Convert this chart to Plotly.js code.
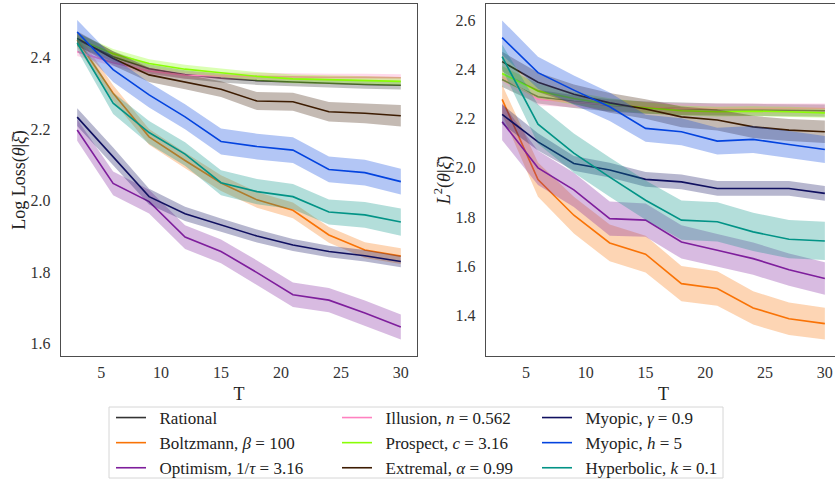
<!DOCTYPE html>
<html><head><meta charset="utf-8">
<script src="https://cdn.plot.ly/plotly-3.0.1.min.js"></script>
<style>html,body{margin:0;padding:0;overflow:hidden;background:#fff;width:835px;height:480px}</style>
</head><body><div id="chart" style="width:851px;height:480px"></div>
<script>
// ---- data ----
const T = [3, 6, 9, 12, 15, 18, 21, 24, 27, 30];
const xTickVals = [5, 10, 15, 20, 25, 30];
const yTickValsLL = [1.6, 1.8, 2.0, 2.2, 2.4];
const yTickValsL2 = [1.4, 1.6, 1.8, 2.0, 2.2, 2.4, 2.6];

const seriesNames = [
  "Rational",
  "Boltzmann, <i>β</i> = 100",
  "Optimism, 1/<i>τ</i> = 3.16",
  "Illusion, <i>n</i> = 0.562",
  "Prospect, <i>c</i> = 3.16",
  "Extremal, <i>α</i> = 0.99",
  "Myopic, <i>γ</i> = 0.9",
  "Myopic, <i>h</i> = 5",
  "Hyperbolic, <i>k</i> = 0.1"
];
const seriesColors = ["#333333", "#f97306", "#7e1e9c", "#ff81c0", "#89fe05", "#3d1c02", "#101060", "#0343df", "#029386"];

// Log Loss panel means
const rationalLL = [2.450, 2.402, 2.368, 2.352, 2.342, 2.335, 2.331, 2.327, 2.324, 2.322];
const boltzLL    = [2.448, 2.300, 2.178, 2.112, 2.049, 2.002, 1.973, 1.904, 1.862, 1.845];
const optimLL    = [2.197, 2.048, 1.997, 1.898, 1.858, 1.799, 1.737, 1.722, 1.686, 1.647];
const illusLL    = [2.416, 2.385, 2.362, 2.350, 2.348, 2.346, 2.345, 2.344, 2.344, 2.343];
const prospLL    = [2.452, 2.410, 2.383, 2.367, 2.357, 2.347, 2.340, 2.337, 2.335, 2.333];
const extremLL   = [2.453, 2.397, 2.351, 2.331, 2.311, 2.278, 2.276, 2.248, 2.244, 2.237];
const myoGammaLL = [2.233, 2.123, 2.011, 1.963, 1.932, 1.901, 1.876, 1.858, 1.846, 1.830];
const myoHLL     = [2.471, 2.366, 2.295, 2.234, 2.165, 2.151, 2.141, 2.087, 2.078, 2.053];
const hyperLL    = [2.440, 2.272, 2.190, 2.130, 2.050, 2.025, 2.011, 1.968, 1.960, 1.940];
// Log Loss panel band half-widths
const rationalLLErr = [0.020, 0.015, 0.013, 0.012, 0.012, 0.012, 0.012, 0.012, 0.012, 0.012];
const boltzLLErr    = [0.020, 0.022, 0.022, 0.022, 0.022, 0.022, 0.022, 0.022, 0.022, 0.022];
const optimLLErr    = [0.030, 0.033, 0.033, 0.033, 0.033, 0.034, 0.034, 0.034, 0.035, 0.035];
const illusLLErr    = [0.012, 0.010, 0.010, 0.010, 0.010, 0.010, 0.010, 0.010, 0.010, 0.010];
const prospLLErr    = [0.015, 0.013, 0.012, 0.012, 0.012, 0.012, 0.012, 0.012, 0.012, 0.012];
const extremLLErr   = [0.020, 0.020, 0.020, 0.020, 0.022, 0.025, 0.025, 0.027, 0.028, 0.030];
const myoGammaLLErr = [0.025, 0.025, 0.022, 0.020, 0.018, 0.018, 0.017, 0.016, 0.016, 0.016];
const myoHLLErr     = [0.033, 0.035, 0.035, 0.035, 0.036, 0.036, 0.036, 0.036, 0.036, 0.036];
const hyperLLErr    = [0.020, 0.030, 0.032, 0.033, 0.035, 0.035, 0.035, 0.035, 0.036, 0.038];

// L2 panel means
const rationalL2 = [2.360, 2.290, 2.270, 2.255, 2.246, 2.240, 2.237, 2.236, 2.235, 2.233];
const boltzL2    = [2.279, 1.952, 1.807, 1.694, 1.648, 1.528, 1.508, 1.429, 1.385, 1.365];
const optimL2    = [2.188, 2.000, 1.910, 1.793, 1.787, 1.698, 1.664, 1.630, 1.585, 1.549];
const illusL2    = [2.371, 2.280, 2.268, 2.256, 2.248, 2.242, 2.242, 2.242, 2.242, 2.242];
const prospL2    = [2.385, 2.313, 2.283, 2.259, 2.245, 2.233, 2.229, 2.231, 2.229, 2.224];
const extremL2   = [2.433, 2.349, 2.300, 2.265, 2.240, 2.208, 2.195, 2.167, 2.154, 2.147];
const myoGammaL2 = [2.218, 2.106, 2.018, 1.991, 1.953, 1.943, 1.916, 1.916, 1.916, 1.896];
const myoHL2     = [2.531, 2.388, 2.317, 2.249, 2.161, 2.147, 2.109, 2.116, 2.095, 2.075];
const hyperL2    = [2.453, 2.178, 2.060, 1.962, 1.868, 1.787, 1.780, 1.739, 1.709, 1.702];
// L2 panel band half-widths
const rationalL2Err = [0.030, 0.028, 0.026, 0.025, 0.025, 0.025, 0.025, 0.025, 0.025, 0.025];
const boltzL2Err    = [0.060, 0.070, 0.075, 0.075, 0.075, 0.072, 0.070, 0.068, 0.066, 0.065];
const optimL2Err    = [0.075, 0.070, 0.070, 0.070, 0.068, 0.068, 0.066, 0.066, 0.066, 0.066];
const illusL2Err    = [0.020, 0.025, 0.022, 0.020, 0.020, 0.020, 0.020, 0.020, 0.020, 0.020];
const prospL2Err    = [0.030, 0.030, 0.025, 0.025, 0.022, 0.020, 0.020, 0.020, 0.020, 0.020];
const extremL2Err   = [0.040, 0.040, 0.040, 0.040, 0.040, 0.042, 0.043, 0.045, 0.045, 0.046];
const myoGammaL2Err = [0.040, 0.035, 0.030, 0.030, 0.030, 0.030, 0.030, 0.030, 0.030, 0.030];
const myoHL2Err     = [0.070, 0.065, 0.060, 0.058, 0.055, 0.055, 0.055, 0.055, 0.055, 0.055];
const hyperL2Err    = [0.050, 0.080, 0.080, 0.080, 0.080, 0.080, 0.080, 0.078, 0.078, 0.078];

// ---- build traces ----
const meansLL = [rationalLL, boltzLL, optimLL, illusLL, prospLL, extremLL, myoGammaLL, myoHLL, hyperLL];
const errsLL  = [rationalLLErr, boltzLLErr, optimLLErr, illusLLErr, prospLLErr, extremLLErr, myoGammaLLErr, myoHLLErr, hyperLLErr];
const meansL2 = [rationalL2, boltzL2, optimL2, illusL2, prospL2, extremL2, myoGammaL2, myoHL2, hyperL2];
const errsL2  = [rationalL2Err, boltzL2Err, optimL2Err, illusL2Err, prospL2Err, extremL2Err, myoGammaL2Err, myoHL2Err, hyperL2Err];
const legendIds = ["legend", "legend", "legend", "legend2", "legend2", "legend2", "legend3", "legend3", "legend3"];

function rgba(hex, a) {
  const n = parseInt(hex.slice(1), 16);
  return `rgba(${(n >> 16) & 255},${(n >> 8) & 255},${n & 255},${a})`;
}

const traces = [];
function addPanel(means, errs, xa, ya, showLeg) {
  means.forEach((m, i) => {
    const up = m.map((v, k) => v + errs[i][k]);
    const lo = m.map((v, k) => v - errs[i][k]);
    traces.push({
      x: T.concat(T.slice().reverse()),
      y: up.concat(lo.slice().reverse()),
      xaxis: xa, yaxis: ya,
      type: "scatter", mode: "lines", fill: "toself",
      fillcolor: rgba(seriesColors[i], 0.3),
      line: {width: 0, color: "rgba(0,0,0,0)"},
      hoverinfo: "skip", showlegend: false
    });
    traces.push({
      x: T, y: m, xaxis: xa, yaxis: ya,
      type: "scatter", mode: "lines",
      name: "\u00a0\u00a0" + seriesNames[i],
      line: {color: seriesColors[i], width: 1.6},
      showlegend: showLeg, legend: legendIds[i]
    });
  });
}
addPanel(meansLL, errsLL, "x", "y", true);
addPanel(meansL2, errsL2, "x2", "y2", false);

// ---- layout ----
const FONT = "Liberation Serif";
const W = 851, H = 480, ML = 61, MR = 10, MT = 4, MB = 124;
const PW = W - ML - MR, PH = H - MT - MB;
const px2x = px => (px - ML) / PW;
const px2y = py => (H - MB - py) / PH;

const axisCommon = {
  showgrid: false, zeroline: false, showline: true, mirror: true,
  linecolor: "#4d4d4d", linewidth: 1.3, ticks: "",
  tickfont: {family: FONT, size: 16, color: "#333"}
};
const legendCommon = {
  font: {family: FONT, size: 17, color: "#222"},
  bgcolor: "rgba(0,0,0,0)", borderwidth: 0,
  xanchor: "left", yanchor: "top", orientation: "v", tracegroupgap: 0
};
const titleFont = {family: FONT, size: 18, color: "#222"};

const layout = {
  width: W, height: H,
  margin: {l: ML, r: MR, t: MT, b: MB, autoexpand: false},
  paper_bgcolor: "#fff", plot_bgcolor: "#fff",
  font: {family: FONT, color: "#222"},
  xaxis: Object.assign({}, axisCommon, {
    domain: [0, px2x(417)], range: [1.65, 31.35], tickvals: xTickVals, ticklabelstandoff: 1,
    title: {text: "T", font: titleFont, standoff: 8}
  }),
  yaxis: Object.assign({}, axisCommon, {
    domain: [0, 1], range: [1.566, 2.549], tickvals: yTickValsLL, tickformat: ".1f", ticklabelstandoff: 6,
    title: {text: "Log Loss(<i>θ</i>|<i>ξ̄</i>)", font: titleFont, standoff: 0}
  }),
  xaxis2: Object.assign({}, axisCommon, {
    domain: [px2x(486), 1], range: [1.65, 31.35], tickvals: xTickVals, anchor: "y2", ticklabelstandoff: 1,
    title: {text: "T", font: titleFont, standoff: 8}
  }),
  yaxis2: Object.assign({}, axisCommon, {
    domain: [0, 1], range: [1.233, 2.668], tickvals: yTickValsL2, tickformat: ".1f", anchor: "x2", ticklabelstandoff: 6,
    title: {text: "<i>L</i><sup>2</sup>(<i>θ</i>|<i>ξ̄</i>)", font: titleFont, standoff: 0}
  }),
  legend:  Object.assign({}, legendCommon, {x: px2x(111), y: px2y(400)}),
  legend2: Object.assign({}, legendCommon, {x: px2x(337), y: px2y(400)}),
  legend3: Object.assign({}, legendCommon, {x: px2x(537), y: px2y(400)}),
  shapes: [{
    type: "rect", xref: "paper", yref: "paper",
    x0: px2x(109), x1: px2x(723), y0: px2y(407), y1: px2y(478),
    line: {color: "#d6d6d6", width: 1}, fillcolor: "rgba(0,0,0,0)"
  }],
  showlegend: true
};

Plotly.newPlot("chart", traces, layout, {displayModeBar: false, staticPlot: true});
</script>
</body></html>
